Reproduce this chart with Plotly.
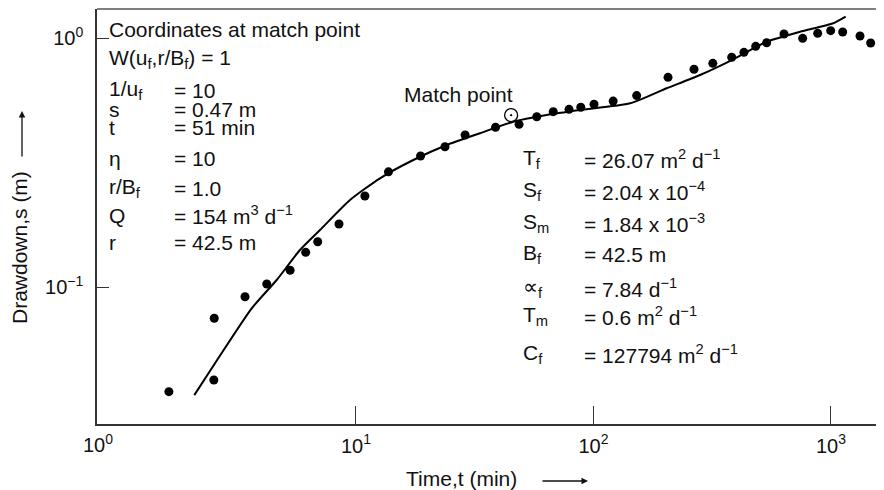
import plotly.graph_objects as go

# ---- observed data (time in min, drawdown in m) ----
time_obs = [1.63, 2.52, 2.53, 3.41, 4.21, 5.28, 6.14, 6.90, 8.48, 10.9, 13.7, 18.7, 23.7,
            28.8, 38.7, 48.6, 57.7, 67.7, 78.9, 88.4, 100.5, 121, 152, 206, 265, 318,
            382, 430, 482, 536, 634, 760, 879, 997, 1120, 1325, 1469, 1619]
drawdown_obs = [0.0380, 0.0423, 0.0749, 0.0914, 0.1028, 0.1167, 0.1378, 0.1520, 0.1791,
                0.232, 0.290, 0.336, 0.366, 0.408, 0.438, 0.450, 0.483, 0.506, 0.517,
                0.527, 0.542, 0.558, 0.587, 0.695, 0.749, 0.791, 0.837, 0.876, 0.926,
                0.957, 1.038, 0.997, 1.044, 1.070, 1.057, 1.019, 0.955, 0.920]

# ---- type curve ----
time_curve = [2.085, 2.549, 3.638, 4.636, 5.81, 7.054, 9.435, 12.62, 17.43, 24.10, 33.27,
              45.96, 63.53, 87.75, 142.5, 203.3, 280.8, 387.8, 536.1, 740.5, 1023, 1153]
drawdown_curve = [0.0368, 0.0494, 0.0821, 0.1067, 0.1408, 0.1694, 0.2236, 0.2733, 0.3236,
                  0.3717, 0.4145, 0.4612, 0.4907, 0.5138, 0.5467, 0.6282, 0.7102, 0.8213,
                  0.9663, 1.060, 1.146, 1.218]

match_time = [45.0]
match_drawdown = [0.49]

# ---- tick labels ----
x_tickvals = [10, 100, 1000]
x_ticktext = ["10<sup>1</sup>", "10<sup>2</sup>", "10<sup>3</sup>"]
y_tickvals = [0.1, 1]
y_ticktext = ["10<sup>−1</sup>", "10<sup>0</sup>"]

# ---- annotation texts ----
left_labels = ["1/u<sub>f</sub>", "s", "t", "η", "r/B<sub>f</sub>", "Q", "r"]
left_values = ["= 10", "= 0.47 m", "= 51 min", "= 10", "= 1.0",
               "= 154 m<sup>3</sup> d<sup>−1</sup>", "= 42.5 m"]
right_labels = ["T<sub>f</sub>", "S<sub>f</sub>", "S<sub>m</sub>", "B<sub>f</sub>",
                "∝<sub>f</sub>", "T<sub>m</sub>", "C<sub>f</sub>"]
right_values = ["= 26.07 m<sup>2</sup> d<sup>−1</sup>", "= 2.04 x 10<sup>−4</sup>",
                "= 1.84 x 10<sup>−3</sup>", "= 42.5 m", "= 7.84 d<sup>−1</sup>",
                "= 0.6 m<sup>2</sup> d<sup>−1</sup>", "= 127794 m<sup>2</sup> d<sup>−1</sup>"]

# page offset of the figure (default body margin of the html page)
OFF = 8
PAGE_W, PAGE_H = 884, 490
W, H = PAGE_W - OFF, PAGE_H - OFF
# plot area in page pixels: x 97..884, y 9..424
PL, PR, PT, PB = 97, 884, 9, 424
ML, MR, MT, MB = PL - OFF, PAGE_W - PR, PT - OFF, PAGE_H - PB
PW, PH = PR - PL, PB - PT
FONT = "Liberation Sans, Arial, Helvetica, sans-serif"
AX = "#333333"
TXT = "#111111"


def px(x):
    return (x - PL) / PW


def py(y):
    return (PB - y) / PH


fig = go.Figure()
fig.add_trace(go.Scatter(x=time_curve, y=drawdown_curve, mode="lines",
                         line=dict(color="black", width=2, shape="spline", smoothing=0.6),
                         hoverinfo="skip", showlegend=False))
fig.add_trace(go.Scatter(x=time_obs, y=drawdown_obs, mode="markers",
                         marker=dict(color="black", size=9),
                         showlegend=False))
fig.add_trace(go.Scatter(x=match_time, y=match_drawdown, mode="markers",
                         marker=dict(symbol="circle-open-dot", color="black", size=13,
                                     line=dict(width=1.3)),
                         showlegend=False))

ann = []
tf = dict(family=FONT, size=21, color=TXT)


def text_at(s, x, y, **kw):
    d = dict(text=s, x=px(x), y=py(y), xref="paper", yref="paper",
             xanchor="left", yanchor="middle", showarrow=False, font=tf)
    d.update(kw)
    ann.append(d)


text_at("Coordinates at match point", 107, 29)
text_at("W(u<sub>f</sub>,r/B<sub>f</sub>) = 1", 107, 59)
left_y = [90, 110, 128, 158, 188, 215, 242]
for lab, val, yy in zip(left_labels, left_values, left_y):
    text_at(lab, 107, yy)
    text_at(val, 172, yy)
right_y = [159, 191, 223, 254, 288, 316, 354]
for lab, val, yy in zip(right_labels, right_values, right_y):
    text_at(lab, 521, yy)
    text_at(val, 582, yy)
text_at("Match point", 402, 94)
# corner tick label 10^0
text_at("10<sup>0</sup>", 98, 443, xanchor="center", font=dict(family=FONT, size=20, color=TXT))
# axis titles
text_at("Time,t (min)", 461, 478, xanchor="center")
ann.append(dict(text="", x=px(588), y=py(481), ax=-47, ay=0, xref="paper", yref="paper",
                axref="pixel", ayref="pixel", showarrow=True, arrowhead=2, arrowsize=1,
                arrowwidth=1.3, arrowcolor=TXT))
text_at("Drawdown,s (m)", 19, 248, xanchor="center", textangle=-90)
ann.append(dict(text="", x=px(22), y=py(111), ax=0, ay=47, xref="paper", yref="paper",
                axref="pixel", ayref="pixel", showarrow=True, arrowhead=2, arrowsize=1,
                arrowwidth=1.3, arrowcolor=TXT))

fig.update_layout(
    width=W, height=H,
    margin=dict(l=ML, r=MR, t=MT, b=MB, pad=0),
    paper_bgcolor="white", plot_bgcolor="white",
    font=dict(family=FONT, size=20, color=TXT),
    annotations=ann,
    hovermode=False,
    shapes=[dict(type="line", xref="paper", yref="paper", x0=0, x1=1, y0=1, y1=1,
                 line=dict(color="#555555", width=1.5))],
)
fig.update_xaxes(type="log", range=[-0.0905, 3.2232], showgrid=False, zeroline=False,
                 showline=True, linecolor=AX, linewidth=1.5,
                 tickvals=x_tickvals, ticktext=x_ticktext, ticks="inside", ticklen=18,
                 tickwidth=1.2, tickcolor=AX, ticklabelstandoff=3,
                 tickfont=dict(size=20, family=FONT, color=TXT))
fig.update_yaxes(type="log", range=[-1.5502, 0.1165], showgrid=False, zeroline=False,
                 showline=True, linecolor=AX, linewidth=1.5,
                 tickvals=y_tickvals, ticktext=y_ticktext, ticks="inside", ticklen=12,
                 tickwidth=1.2, tickcolor=AX, ticklabelstandoff=8,
                 tickfont=dict(size=20, family=FONT, color=TXT))

fig.write_html("out.html", config={"displayModeBar": False})
